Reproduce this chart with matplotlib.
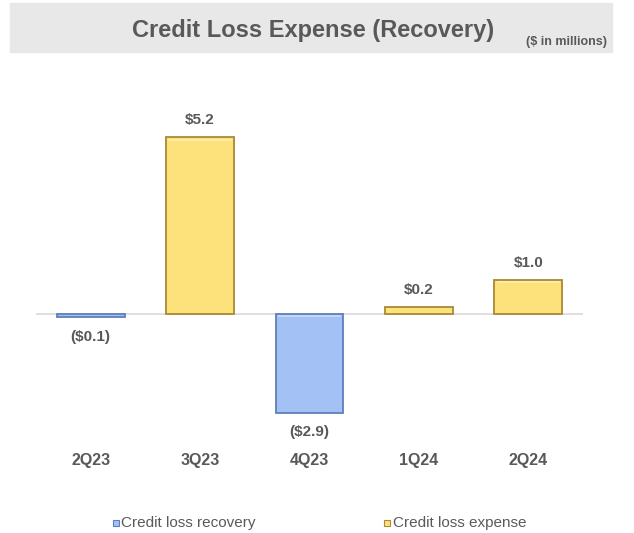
import matplotlib.pyplot as plt
from matplotlib.patches import Rectangle

# quarterly credit loss expense (recovery), $ in millions
quarters = ['2Q23', '3Q23', '4Q23', '1Q24', '2Q24']
values = [-0.1, 5.2, -2.9, 0.2, 1.0]
labels = ['($0.1)', '$5.2', '($2.9)', '$0.2', '$1.0']
legend_names = ['Credit loss recovery', 'Credit loss expense']

plt.rcParams['font.family'] = ['Liberation Sans', 'DejaVu Sans']
text_grey = '#595959'
yellow, yellow_edge = '#fde27c', '#a88a35'
blue, blue_edge = '#a3c1f5', '#5f7fba'

W, H = 634, 533
fig = plt.figure(figsize=(W / 100, H / 100), dpi=100)


def px(x, y):
    # pixel position (from top-left) to figure fraction
    return x / W, 1 - y / H


# grey title band
fig.patches.append(Rectangle(px(10, 52), 602 / W, 49 / H,
                             transform=fig.transFigure, color='#e8e8e8', zorder=0))
fig.text(*px(313, 30), 'Credit Loss Expense (Recovery)', ha='center', va='center',
         fontsize=17, fontweight='bold', color=text_grey)
fig.text(*px(566, 42), '($ in millions)', ha='center', va='center',
         fontsize=9, fontweight='bold', color=text_grey)

# zero line at y=314px, 34px per $1M
ax = fig.add_axes([36 / W, 1 - 440 / H, 547 / W, 340 / H])
ax.set_xlim(-0.5, 4.5)
ax.set_ylim(-(440 - 314) / 34, (314 - 100) / 34)
ax.axis('off')
ax.axhline(0, color='#d9d9d9', lw=1.2, zorder=1)

for i, (v, lab) in enumerate(zip(values, labels)):
    fc, ec = (yellow, yellow_edge) if v >= 0 else (blue, blue_edge)
    ax.bar(i, v, width=0.62, color=fc, edgecolor=ec, linewidth=1.3, zorder=2)
    # soft highlight along the bar's top edge for the bevel look
    if abs(v) > 0.5:
        top = max(v, 0)
        ax.bar(i, -0.06, bottom=top - 0.04, width=0.58, color='white', alpha=0.35,
               linewidth=0, zorder=3)
    off = 12.5 if v >= 0 else -14
    ax.annotate(lab, (i, v), xytext=(0, off), textcoords='offset points',
                ha='center', va='center', fontsize=11, fontweight='bold', color=text_grey)
    ax.text(i, -(460 - 314) / 34, quarters[i], ha='center', va='center',
            fontsize=11.5, fontweight='bold', color=text_grey, clip_on=False)

# legend drawn as small squares with labels
for (mx, tx), name, fc, ec in zip([(113, 121), (384, 393)], legend_names,
                                  [blue, yellow], [blue_edge, yellow_edge]):
    fig.patches.append(Rectangle(px(mx, 526), 6 / W, 6 / H, transform=fig.transFigure,
                                 facecolor=fc, edgecolor=ec, linewidth=0.8))
    fig.text(*px(tx, 523), name, ha='left', va='center', fontsize=11, color=text_grey)

fig.savefig('out.png', dpi=100)
